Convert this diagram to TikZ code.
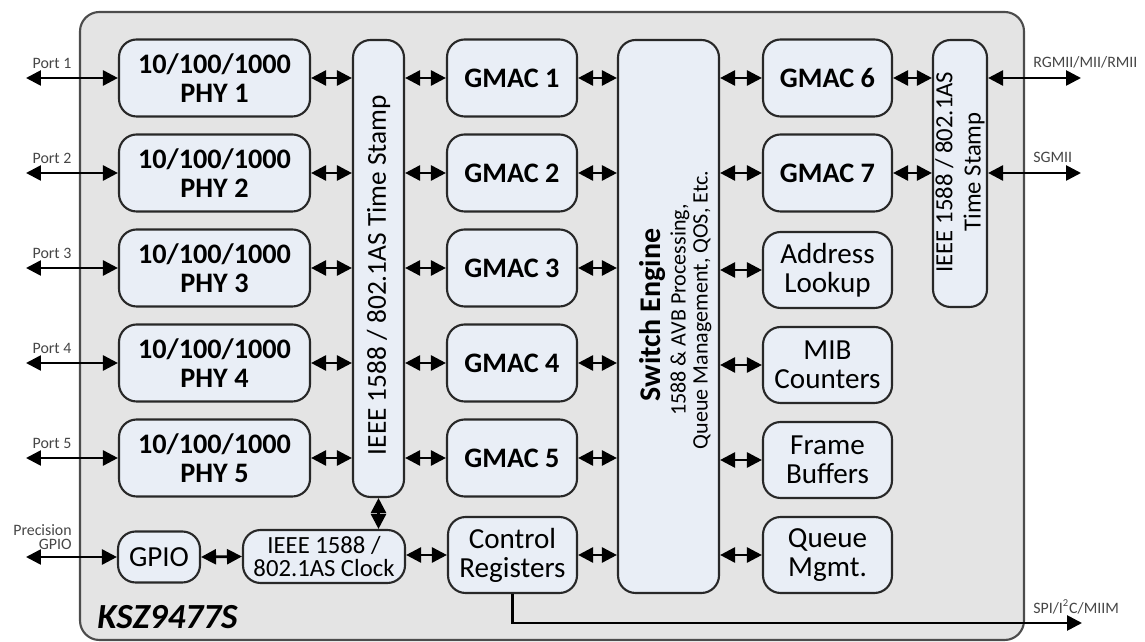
\documentclass[tikz,border=0pt]{standalone}
\usepackage{fontspec}
\setmainfont{Carlito}
\usetikzlibrary{arrows.meta}
\definecolor{boxfill}{RGB}{233,238,246}
\definecolor{outerfill}{RGB}{228,228,228}
\definecolor{edgecol}{RGB}{40,40,40}
\definecolor{lblcol}{RGB}{70,70,70}
\def\pxu{0.567pt}
\begin{document}
\begin{tikzpicture}[x=0.567pt,y=-0.567pt,
  blk/.style={draw=edgecol, line width=1.2pt, fill=boxfill, rounded corners=10pt,
    inner sep=0pt, align=center, font=\fontsize{16.5}{16.5}\selectfont},
  bblk/.style={blk, font=\fontsize{16}{16.5}\selectfont\bfseries},
  tip/.tip={Triangle[length=8.5pt,width=8.5pt]},
  dbl/.style={tip-tip, line width=1.5pt, draw=black},
  sgl/.style={-tip, line width=1.5pt, draw=black},
  lbl/.style={font=\fontsize{9}{8}\selectfont, text=lblcol, inner sep=0pt}]
\useasboundingbox (0,0) rectangle (1145,642);
% outer chip box
\draw[draw=black!70, line width=1.2pt, fill=outerfill, rounded corners=11pt] (80,12) rectangle (1024,640);
\node[anchor=base west, inner sep=0pt, font=\fontsize{20}{20}\selectfont\bfseries\itshape] (chip) at (97,628) {KSZ9477S};

% left time stamp bar
\node[blk, minimum width=51*\pxu, minimum height=457*\pxu] (tsl) at (378.5,268.5) {};
\node[rotate=90, inner sep=0pt, font=\fontsize{15.5}{15.5}\selectfont] (tslt) at (378.5,275) {IEEE 1588 / 802.1AS Time Stamp};

% switch engine
\node[blk, minimum width=101*\pxu, minimum height=553*\pxu] (sw) at (668.5,316.5) {};
\node[rotate=90, inner sep=0pt, font=\fontsize{17}{17}\selectfont\bfseries] (swt) at (653,315) {Switch Engine};
\node[rotate=90, inner sep=0pt, align=center, font=\fontsize{12.5}{12.5}\selectfont] (sws) at (691,310) {1588 \& AVB Processing,\\Queue Management, QOS, Etc.};

% right time stamp bar
\node[blk, minimum width=54*\pxu, minimum height=267*\pxu] (tsr) at (960,173.5) {};
\node[rotate=90, inner sep=0pt, align=center, font=\fontsize{14}{16}\selectfont] (tsrt) at (960,172) {IEEE 1588 / 802.1AS\\Time Stamp};

% PHYs, GMACs 1-5, ports
\foreach \i in {1,...,5} {
  \pgfmathsetmacro\yy{78+95*(\i-1)}
  \node[bblk, minimum width=191*\pxu, minimum height=77*\pxu] (phy\i) at (214.5,\yy) {10/100/1000\\PHY \i};
  \node[bblk, minimum width=130*\pxu, minimum height=77*\pxu] (gmac\i) at (512,\yy) {GMAC \i};
  \coordinate (port\i) at (26,\yy);
  \node[lbl] (portl\i) at (52,\yy-15) {Port \i};
  \draw[dbl] (port\i) -- (phy\i.west);
  \draw[dbl] (phy\i.east) -- (phy\i.east -| tsl.west);
  \draw[dbl] (gmac\i.west -| tsl.east) -- (gmac\i.west);
  \draw[dbl] (gmac\i.east) -- (gmac\i.east -| sw.west);
}

% GMAC 6, 7
\node[bblk, minimum width=129*\pxu, minimum height=77*\pxu] (gmac6) at (827.5,78) {GMAC 6};
\node[bblk, minimum width=129*\pxu, minimum height=77*\pxu] (gmac7) at (827.5,173) {GMAC 7};
\foreach \g in {6,7} {
  \draw[dbl] (gmac\g.west -| sw.east) -- (gmac\g.west);
  \draw[dbl] (gmac\g.east) -- (gmac\g.east -| tsr.west);
}
\coordinate (rgmii) at (1081,78);
\coordinate (sgmii) at (1081,173);
\draw[dbl] (rgmii -| tsr.east) -- (rgmii);
\draw[dbl] (sgmii -| tsr.east) -- (sgmii);
\node[lbl, anchor=west] (rgmiil) at (1033,62) {RGMII/MII/RMII};
\node[lbl, anchor=west] (sgmiil) at (1033,157) {SGMII};

% right column blocks
\node[blk, minimum width=129*\pxu, minimum height=76*\pxu] (addr) at (827.5,270) {Address\\Lookup};
\node[blk, minimum width=129*\pxu, minimum height=76*\pxu] (mib) at (827.5,365) {MIB\\Counters};
\node[blk, minimum width=129*\pxu, minimum height=76*\pxu] (frame) at (827.5,460) {Frame\\Buffers};
\node[blk, minimum width=129*\pxu, minimum height=76*\pxu] (queue) at (827.5,555) {Queue\\Mgmt.};
\foreach \b in {addr,mib,frame,queue} {
  \draw[dbl] (\b.west -| sw.east) -- (\b.west);
}

% bottom row
\node[blk, minimum width=82*\pxu, minimum height=51*\pxu] (gpio) at (159,557) {GPIO};
\node[blk, minimum width=162*\pxu, minimum height=53*\pxu, font=\fontsize{14}{13.5}\selectfont] (clk) at (324,556.5) {IEEE 1588 /\\802.1AS Clock};
\node[blk, minimum width=129*\pxu, minimum height=76*\pxu] (ctrl) at (512.5,555) {Control\\Registers};
\coordinate (pgpio) at (26,557);
\node[lbl, anchor=east, align=right] (pgpiol) at (72,537) {Precision\\GPIO};
\draw[dbl] (pgpio) -- (gpio.west);
\draw[dbl] (gpio.east) -- (clk.west);
\draw[dbl] (tsl.south) -- (tsl.south |- clk.north);
\draw[dbl] (ctrl.west -| clk.east) -- (ctrl.west);
\draw[dbl] (ctrl.east) -- (ctrl.east -| sw.west);
\coordinate (spi) at (1082,623);
\draw[sgl] (ctrl.south) |- (spi);
\node[lbl, anchor=west] (spil) at (1033,607) {SPI/I\textsuperscript{2}C/MIIM};
\end{tikzpicture}
\end{document}
